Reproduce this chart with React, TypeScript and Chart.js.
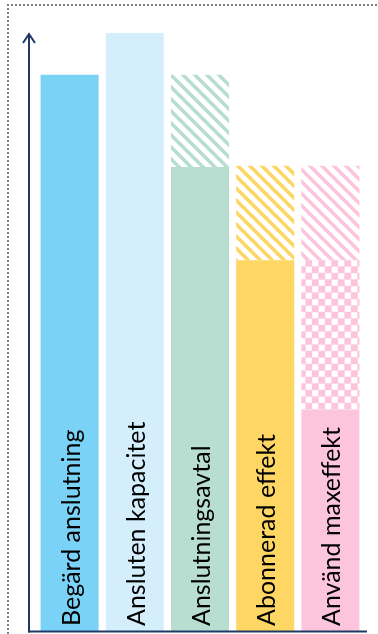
import React, { useEffect, useRef } from "react";
import { Chart, registerables } from "chart.js";

Chart.register(...registerables);

const categories = [
  "Begärd anslutning",
  "Ansluten kapacitet",
  "Anslutningsavtal",
  "Abonnerad effekt",
  "Använd maxeffekt",
];
const solidValues = [93, 100, 77.6, 62, 37];
const checkerValues = [0, 0, 0, 0, 25];
const stripeValues = [0, 0, 15.4, 15.8, 15.8];
const barColors = ["#7AD2F6", "#D4EEFB", "#B8DDD1", "#FDD663", "#FCC5DC"];
const yMax = 100;

const AXIS_COLOR = "#1F3864";
const LABEL_FONT = "25px Lato";

function stripePattern(color: string): CanvasPattern | string {
  const s = 12;
  const c = document.createElement("canvas");
  c.width = s;
  c.height = s;
  const g = c.getContext("2d");
  if (!g) return color;
  g.fillStyle = "#ffffff";
  g.fillRect(0, 0, s, s);
  g.strokeStyle = color;
  g.lineWidth = 3.6;
  for (let k = -1; k <= 1; k++) {
    g.beginPath();
    g.moveTo(k * s - 2, -2);
    g.lineTo(k * s + s + 2, s + 2);
    g.stroke();
  }
  return g.createPattern(c, "repeat") || color;
}

function checkerPattern(color: string): CanvasPattern | string {
  const s = 13;
  const h = 6.5;
  const c = document.createElement("canvas");
  c.width = s;
  c.height = s;
  const g = c.getContext("2d");
  if (!g) return color;
  g.fillStyle = "#fde6ef";
  g.fillRect(0, 0, s, s);
  g.fillStyle = "#ffffff";
  g.fillRect(0.5, 0.5, h - 1, h - 1);
  g.fillRect(h + 0.5, h + 0.5, h - 1, h - 1);
  g.fillStyle = color;
  g.fillRect(h, 0, h, h);
  g.fillRect(0, h, h, h);
  return g.createPattern(c, "repeat") || color;
}

const decorPlugin = {
  id: "decor",
  beforeDraw(chart: any) {
    const ctx = chart.ctx as CanvasRenderingContext2D;
    ctx.save();
    ctx.fillStyle = "#ffffff";
    ctx.fillRect(0, 0, chart.width, chart.height);
    // dotted frame
    ctx.strokeStyle = "#7f7f7f";
    ctx.lineWidth = 2;
    ctx.setLineDash([2, 2]);
    ctx.beginPath();
    ctx.moveTo(8, chart.height);
    ctx.lineTo(8, 5);
    ctx.lineTo(chart.width, 5);
    ctx.stroke();
    ctx.restore();
  },
  afterDatasetsDraw(chart: any) {
    const ctx = chart.ctx as CanvasRenderingContext2D;
    const area = chart.chartArea;
    const xs = chart.scales.x;
    const ys = chart.scales.y;
    const axisX = area.left - 8;
    const top = ys.getPixelForValue(yMax);
    const bottom = ys.getPixelForValue(0) + 0.5;
    ctx.save();
    ctx.strokeStyle = AXIS_COLOR;
    ctx.lineWidth = 2;
    ctx.lineCap = "butt";
    // y axis
    ctx.beginPath();
    ctx.moveTo(axisX, bottom + 1);
    ctx.lineTo(axisX, top + 1);
    ctx.stroke();
    // arrow head
    ctx.lineJoin = "miter";
    ctx.beginPath();
    ctx.moveTo(axisX - 6, top + 10);
    ctx.lineTo(axisX, top + 1);
    ctx.lineTo(axisX + 6, top + 10);
    ctx.stroke();
    // x axis
    ctx.beginPath();
    ctx.moveTo(axisX - 1, bottom);
    ctx.lineTo(area.right + 4, bottom);
    ctx.stroke();

    // labels
    ctx.font = LABEL_FONT;
    ctx.fillStyle = "#000000";
    ctx.textAlign = "left";
    ctx.textBaseline = "alphabetic";
    const capH = ctx.measureText("H").actualBoundingBoxAscent || 17;
    categories.forEach((label, i) => {
      const cx = xs.getPixelForValue(i);
      ctx.save();
      ctx.translate(cx + capH / 2 + 1, area.bottom - 5);
      ctx.rotate(-Math.PI / 2);
      ctx.fillText(label, 0, 0);
      ctx.restore();
    });
    ctx.restore();
  },
};

export default function App() {
  const ref = useRef<HTMLCanvasElement | null>(null);

  useEffect(() => {
    document.body.style.margin = "0";
    const canvas = ref.current;
    if (!canvas) return;

    const checkerColors = barColors.map((c, i) => (checkerValues[i] ? checkerPattern(c) : c));
    const stripeColors = barColors.map((c, i) => (stripeValues[i] ? stripePattern(c) : c));

    const chart = new Chart(canvas, {
      type: "bar",
      data: {
        labels: categories,
        datasets: [
          { label: "solid", data: solidValues, backgroundColor: barColors, borderWidth: 0 },
          { label: "checker", data: checkerValues, backgroundColor: checkerColors as any, borderWidth: 0 },
          { label: "stripes", data: stripeValues, backgroundColor: stripeColors as any, borderWidth: 0 },
        ],
      },
      options: {
        responsive: false,
        animation: false,
        events: [],
        layout: { padding: { left: 37, right: 15, top: 33, bottom: 3 } },
        datasets: {
          bar: { categoryPercentage: 1, barPercentage: 0.89 },
        },
        plugins: {
          legend: { display: false },
          tooltip: { enabled: false },
          title: { display: false },
        },
        scales: {
          x: { stacked: true, display: false, grid: { display: false } },
          y: { stacked: true, display: false, min: 0, max: yMax, grid: { display: false } },
        },
      },
      plugins: [decorPlugin],
    });

    return () => chart.destroy();
  }, []);

  return (
    <div style={{ width: 378, height: 634 }}>
      <canvas ref={ref} width={378} height={634} style={{ display: "block" }} />
    </div>
  );
}
